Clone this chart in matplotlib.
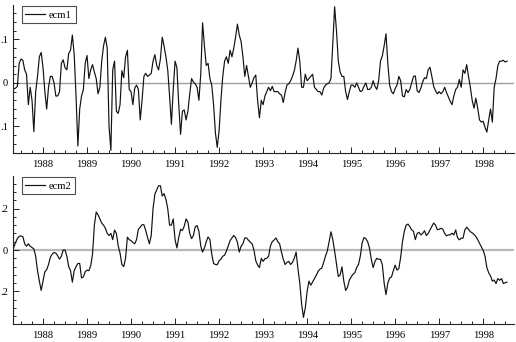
import numpy as np
import matplotlib
matplotlib.use('Agg')
import matplotlib.pyplot as plt
from matplotlib.ticker import MultipleLocator, FixedLocator

# half-monthly observations, first one in May 1987
start = 1987 + 4 / 12.0
step = 1 / 24.0

ecm1 = [
    -0.014, -0.012, -0.008, 0.045, 0.055, 0.052, 0.030, 0.020, -0.050, -0.010,
    -0.040, -0.112, -0.020, 0.015, 0.060, 0.070, 0.035, -0.020, -0.060, -0.010,
    0.015, 0.015, 0.000, -0.030, -0.030, -0.020, 0.045, 0.053, 0.035, 0.030,
    0.068, 0.075, 0.110, 0.065, -0.030, -0.145, -0.060, -0.030, -0.015, 0.045,
    0.063, 0.010, 0.030, 0.042, 0.025, 0.010, -0.025, -0.010, 0.050, 0.085,
    0.105, 0.080, -0.100, -0.155, 0.030, 0.050, -0.065, -0.070, -0.050, 0.028,
    0.012, 0.060, 0.075, -0.015, -0.020, -0.050, -0.012, -0.005, -0.015, -0.085,
    -0.040, 0.015, 0.022, 0.015, 0.018, 0.022, 0.050, 0.065, 0.040, 0.030,
    0.055, 0.105, 0.085, 0.060, 0.030, -0.030, -0.095, -0.015, 0.050, 0.035,
    -0.050, -0.118, -0.065, -0.062, -0.085, -0.065, -0.025, 0.010, 0.002, -0.002,
    -0.010, -0.040, 0.020, 0.138, 0.085, 0.040, 0.045, 0.010, -0.005, -0.050,
    -0.115, -0.148, -0.110, -0.040, 0.015, 0.050, 0.060, 0.045, 0.075, 0.060,
    0.080, 0.105, 0.135, 0.110, 0.095, 0.060, 0.015, 0.040, 0.015, -0.010,
    0.000, 0.012, 0.018, -0.040, -0.080, -0.040, -0.050, -0.030, -0.020, -0.010,
    -0.018, -0.008, -0.020, -0.020, -0.020, -0.025, -0.028, -0.045, -0.022, -0.005,
    -0.002, 0.005, 0.015, 0.028, 0.050, 0.080, 0.050, -0.010, -0.010, 0.020,
    0.005, 0.010, 0.015, 0.020, -0.010, -0.015, -0.020, -0.020, -0.028, -0.012,
    -0.005, -0.002, 0.000, 0.010, 0.090, 0.175, 0.120, 0.050, 0.025, 0.015,
    0.015, -0.020, -0.038, -0.020, -0.005, -0.005, -0.010, 0.000, -0.010, -0.020,
    -0.018, -0.008, 0.000, -0.015, -0.015, -0.010, 0.005, -0.008, -0.015, 0.005,
    0.050, 0.062, 0.085, 0.113, 0.045, -0.005, -0.020, -0.025, -0.013, -0.005,
    0.015, 0.005, -0.030, -0.032, -0.015, -0.022, -0.015, 0.000, 0.015, 0.016,
    -0.018, -0.022, -0.012, 0.002, 0.012, 0.010, 0.030, 0.036, 0.015, -0.008,
    -0.018, -0.025, -0.020, -0.025, -0.020, -0.010, -0.022, -0.032, -0.042, -0.050,
    -0.030, -0.015, -0.010, 0.008, -0.010, 0.030, 0.022, 0.042, 0.015, -0.010,
    -0.040, -0.058, -0.035, -0.058, -0.085, -0.090, -0.088, -0.102, -0.113, -0.085,
    -0.060, -0.090, -0.010, 0.010, 0.040, 0.050, 0.050, 0.052, 0.048, 0.050,
]

ecm2 = [
    0.012, 0.035, 0.056, 0.066, 0.068, 0.064, 0.030, 0.018, 0.030, 0.018,
    0.012, 0.005, -0.030, -0.100, -0.150, -0.195, -0.150, -0.105, -0.095, -0.070,
    -0.035, -0.020, -0.012, -0.015, -0.028, -0.044, -0.030, 0.000, 0.000, -0.030,
    -0.080, -0.100, -0.155, -0.100, -0.080, -0.065, -0.065, -0.135, -0.130, -0.105,
    -0.097, -0.100, -0.076, -0.020, 0.120, 0.183, 0.170, 0.150, 0.130, 0.120,
    0.105, 0.080, 0.070, 0.080, 0.050, 0.096, 0.080, 0.020, -0.015, -0.070,
    -0.080, -0.040, 0.062, 0.050, 0.045, 0.036, 0.030, 0.050, 0.100, 0.110,
    0.122, 0.122, 0.094, 0.060, 0.030, 0.070, 0.200, 0.270, 0.290, 0.310,
    0.310, 0.260, 0.272, 0.245, 0.200, 0.120, 0.120, 0.150, 0.050, 0.010,
    0.060, 0.100, 0.094, 0.115, 0.150, 0.135, 0.080, 0.055, 0.070, 0.112,
    0.118, 0.090, 0.020, -0.010, 0.010, 0.040, 0.063, 0.050, -0.020, -0.065,
    -0.070, -0.071, -0.052, -0.044, -0.030, -0.025, -0.005, 0.020, 0.045, 0.058,
    0.070, 0.060, 0.037, -0.010, 0.018, 0.030, 0.058, 0.058, 0.047, 0.038,
    0.030, 0.000, -0.052, -0.072, -0.085, -0.040, -0.055, -0.042, -0.040, -0.030,
    0.020, 0.040, 0.048, 0.058, 0.040, 0.030, -0.010, -0.045, -0.070, -0.060,
    -0.055, -0.070, -0.060, -0.040, -0.010, -0.090, -0.160, -0.260, -0.325, -0.280,
    -0.200, -0.150, -0.170, -0.154, -0.138, -0.122, -0.103, -0.092, -0.088, -0.060,
    -0.030, -0.005, 0.040, 0.088, 0.050, -0.005, -0.065, -0.128, -0.120, -0.081,
    -0.150, -0.195, -0.180, -0.146, -0.130, -0.117, -0.110, -0.085, -0.070, -0.030,
    0.035, 0.060, 0.055, 0.040, 0.010, -0.045, -0.085, -0.055, -0.040, -0.045,
    -0.045, -0.070, -0.160, -0.215, -0.160, -0.135, -0.130, -0.100, -0.073, -0.097,
    -0.090, -0.035, 0.040, 0.090, 0.120, 0.125, 0.113, 0.097, 0.090, 0.050,
    0.080, 0.085, 0.073, 0.080, 0.093, 0.070, 0.080, 0.097, 0.113, 0.130,
    0.120, 0.098, 0.100, 0.105, 0.100, 0.080, 0.068, 0.073, 0.073, 0.081,
    0.073, 0.097, 0.060, 0.049, 0.057, 0.057, 0.097, 0.110, 0.100, 0.088,
    0.083, 0.075, 0.065, 0.050, 0.032, 0.015, -0.002, -0.030, -0.085, -0.110,
    -0.125, -0.150, -0.145, -0.162, -0.138, -0.146, -0.138, -0.162, -0.158, -0.155,
]

years = list(range(1988, 1999))
quarters = [1987.5, 1987.75] + [y + q for y in years for q in (0, 0.25, 0.5, 0.75)]

panels = [
    ('ecm1', ecm1, (-0.161, 0.179), [-0.1, 0, 0.1], ['.1', '0', '.1'], 0.02),
    ('ecm2', ecm2, (-0.357, 0.357), [-0.2, 0, 0.2], ['.2', '0', '.2'], 0.04),
]

plt.rcParams['font.family'] = ['Liberation Serif', 'DejaVu Serif']
plt.rcParams['font.size'] = 7.6

fig = plt.figure(figsize=(5.16, 3.42), dpi=100)
axes_pos = [[13/516, 1 - 153/342, 501/516, 148/342],
            [13/516, 1 - 324/342, 501/516, 148/342]]

for pos, (name, vals, ylim, yt, ytl, yminor) in zip(axes_pos, panels):
    ax = fig.add_axes(pos)
    t = start + np.arange(len(vals)) * step
    ax.axhline(0, color='#a0a0a0' if name == 'ecm1' else '#b8b8b8',
               lw=1.0 if name == 'ecm1' else 1.6, zorder=1)
    ax.plot(t, vals, color='#111111', lw=0.85, label=name, zorder=2)
    ax.set_xlim(1987.318, 1998.70)
    ax.set_ylim(*ylim)
    ax.spines['top'].set_visible(False)
    ax.spines['right'].set_visible(False)
    for s in ('left', 'bottom'):
        ax.spines[s].set_linewidth(0.8)
        ax.spines[s].set_color('#222222')
    ax.set_xticks(years)
    ax.set_xticklabels([str(y) for y in years])
    ax.xaxis.set_minor_locator(FixedLocator(quarters))
    ax.set_yticks(yt)
    ax.set_yticklabels(ytl)
    ax.yaxis.set_minor_locator(MultipleLocator(yminor))
    ax.tick_params(which='both', direction='in', color='#222222', width=0.7)
    ax.tick_params(which='major', length=4)
    ax.tick_params(which='minor', length=2)
    ax.tick_params(axis='x', pad=5)
    ax.tick_params(axis='y', pad=3.5)
    leg = ax.legend(loc='upper left', bbox_to_anchor=(0.017, 0.99),
                    frameon=True, fancybox=False, handlelength=1.9,
                    handletextpad=0.35, borderpad=0.35, borderaxespad=0)
    leg.get_frame().set_edgecolor('#222222')
    leg.get_frame().set_linewidth(0.8)

fig.savefig('out.png', dpi=100)
